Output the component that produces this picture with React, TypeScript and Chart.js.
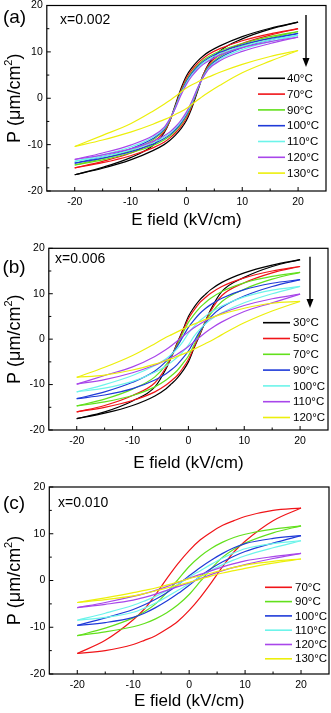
import React, { useEffect, useRef } from 'react';
import { Chart, registerables } from 'chart.js';

Chart.register(...registerables);

const FONT = '"Liberation Sans", Arial, Helvetica, sans-serif';

// ---------- axes ----------
const X_TICKS = [-20, -10, 0, 10, 20];
const X_MINOR = [-15, -5, 5, 15];
const Y_TICKS = [-20, -10, 0, 10, 20];
const Y_MINOR = [-15, -5, 5, 15];

// ---------- E field grids (kV/cm) ----------
const E_AB = [-20, -15, -10, -6, -4, -3, -2, -1, 0, 1, 2, 3, 4, 6, 10, 15, 20];
const E_C = [-20, -15, -10, -8, -6, -4, -2, 0, 2, 4, 6, 8, 10, 15, 20];

// ---------- panel (a) x=0.002 ----------
const TEMPS_A = ['40°C', '70°C', '90°C', '100°C', '110°C', '120°C', '130°C'];
const UPPER_A = [
  [-16.5, -14.9, -12.8, -10.2, -7.5, -5.0, -1.5, 2.0, 4.8, 6.6, 8.0, 9.1, 10.0, 11.3, 13.3, 15.1, 16.4],
  [-15.0, -13.6, -11.8, -9.5, -7.2, -5.0, -1.8, 1.6, 4.3, 6.1, 7.5, 8.6, 9.5, 10.7, 12.4, 13.9, 15.0],
  [-14.4, -13.0, -11.3, -9.0, -6.9, -4.8, -1.9, 1.3, 3.9, 5.7, 7.1, 8.2, 9.0, 10.2, 11.8, 13.3, 14.4],
  [-14.0, -12.6, -10.9, -8.7, -6.7, -4.7, -2.0, 1.1, 3.6, 5.4, 6.8, 7.9, 8.7, 9.9, 11.5, 12.9, 14.0],
  [-13.6, -12.2, -10.5, -8.4, -6.5, -4.6, -2.1, 0.9, 3.3, 5.1, 6.5, 7.6, 8.4, 9.6, 11.2, 12.6, 13.6],
  [-13.2, -11.8, -10.1, -8.1, -6.3, -4.5, -2.2, 0.6, 3.0, 4.8, 6.2, 7.3, 8.1, 9.3, 10.9, 12.2, 13.2],
  [-10.4, -8.0, -5.5, -2.8, -1.3, -0.5, 0.4, 1.3, 2.2, 2.9, 3.5, 4.1, 4.6, 5.6, 7.3, 9.0, 10.3],
];
const LOWER_A = [
  [-16.5, -15.1, -13.3, -11.3, -10.0, -9.1, -8.0, -6.6, -4.8, -2.0, 1.5, 5.0, 7.5, 10.2, 12.8, 14.9, 16.4],
  [-15.0, -13.9, -12.4, -10.7, -9.5, -8.6, -7.5, -6.1, -4.3, -1.6, 1.8, 5.0, 7.2, 9.5, 11.8, 13.6, 15.0],
  [-14.4, -13.3, -11.8, -10.2, -9.0, -8.2, -7.1, -5.7, -3.9, -1.3, 1.9, 4.8, 6.9, 9.0, 11.3, 13.0, 14.4],
  [-14.0, -12.9, -11.5, -9.9, -8.7, -7.9, -6.8, -5.4, -3.6, -1.1, 2.0, 4.7, 6.7, 8.7, 10.9, 12.6, 14.0],
  [-13.6, -12.6, -11.2, -9.6, -8.4, -7.6, -6.5, -5.1, -3.3, -0.9, 2.1, 4.6, 6.5, 8.4, 10.5, 12.2, 13.6],
  [-13.2, -12.2, -10.9, -9.3, -8.1, -7.3, -6.2, -4.8, -3.0, -0.6, 2.2, 4.5, 6.3, 8.1, 10.1, 11.8, 13.2],
  [-10.4, -9.0, -7.3, -5.6, -4.6, -4.1, -3.5, -2.9, -2.2, -1.3, -0.4, 0.5, 1.3, 2.8, 5.5, 8.0, 10.3],
];

// ---------- panel (b) x=0.006 ----------
const TEMPS_B = ['30°C', '50°C', '70°C', '90°C', '100°C', '110°C', '120°C'];
const UPPER_B = [
  [-17.5, -16.0, -13.6, -10.5, -6.5, -3.8, -0.8, 2.0, 5.0, 7.0, 8.6, 9.8, 10.9, 12.5, 14.6, 16.3, 17.5],
  [-16.0, -14.6, -12.4, -9.6, -6.2, -3.8, -1.0, 1.8, 4.5, 6.4, 8.0, 9.1, 10.1, 11.6, 13.5, 15.0, 16.0],
  [-14.7, -13.2, -11.0, -8.3, -5.6, -3.6, -1.3, 1.3, 3.7, 5.4, 6.9, 8.0, 9.0, 10.5, 12.4, 13.8, 14.7],
  [-13.1, -11.6, -9.5, -7.0, -4.9, -3.4, -1.6, 0.5, 2.6, 4.2, 5.6, 6.7, 7.6, 9.0, 10.9, 12.3, 13.1],
  [-11.6, -10.0, -8.0, -5.8, -4.3, -3.3, -2.1, -0.6, 1.3, 2.8, 4.0, 5.0, 5.9, 7.3, 9.3, 10.8, 11.6],
  [-9.9, -8.0, -6.1, -3.8, -2.3, -1.4, -0.4, 0.6, 1.6, 2.5, 3.3, 4.0, 4.6, 5.7, 7.4, 8.9, 9.9],
  [-8.4, -6.2, -3.6, -1.0, 0.4, 1.0, 1.6, 2.2, 2.8, 3.3, 3.8, 4.3, 4.7, 5.5, 6.8, 7.9, 8.3],
];
const LOWER_B = [
  [-17.5, -16.3, -14.6, -12.5, -10.9, -9.8, -8.6, -7.0, -5.0, -2.0, 0.8, 3.8, 6.5, 10.5, 13.6, 16.0, 17.5],
  [-16.0, -15.0, -13.5, -11.6, -10.1, -9.1, -8.0, -6.4, -4.5, -1.8, 1.0, 3.8, 6.2, 9.6, 12.4, 14.6, 16.0],
  [-14.7, -13.8, -12.4, -10.5, -9.0, -8.0, -6.9, -5.4, -3.7, -1.3, 1.3, 3.6, 5.6, 8.3, 11.0, 13.2, 14.7],
  [-13.1, -12.3, -10.9, -9.0, -7.6, -6.7, -5.6, -4.2, -2.6, -0.5, 1.6, 3.4, 4.9, 7.0, 9.5, 11.6, 13.1],
  [-11.6, -10.8, -9.3, -7.3, -5.9, -5.0, -4.0, -2.8, -1.3, 0.6, 2.1, 3.3, 4.3, 5.8, 8.0, 10.0, 11.6],
  [-9.9, -8.9, -7.4, -5.7, -4.6, -4.0, -3.3, -2.5, -1.6, -0.6, 0.4, 1.4, 2.3, 3.8, 6.1, 8.0, 9.9],
  [-8.4, -7.9, -6.8, -5.5, -4.7, -4.3, -3.8, -3.3, -2.8, -2.2, -1.6, -1.0, -0.4, 1.0, 3.6, 6.2, 8.3],
];

// ---------- panel (c) x=0.010 ----------
const TEMPS_C = ['70°C', '90°C', '100°C', '110°C', '120°C', '130°C'];
const UPPER_C = [
  [-15.6, -12.8, -8.4, -6.1, -3.0, 0.4, 3.6, 6.4, 8.7, 10.4, 11.8, 12.8, 13.7, 15.0, 15.5],
  [-11.8, -10.2, -8.0, -6.7, -5.0, -2.6, 0.2, 3.0, 5.2, 6.9, 8.2, 9.2, 9.9, 11.0, 11.7],
  [-9.6, -8.0, -6.2, -5.2, -4.0, -2.6, -0.9, 1.0, 2.8, 4.4, 5.8, 7.0, 7.9, 9.0, 9.6],
  [-8.5, -7.0, -5.3, -4.4, -3.4, -2.2, -0.8, 0.7, 2.1, 3.5, 4.8, 5.9, 6.8, 7.9, 8.5],
  [-5.8, -4.7, -3.4, -2.8, -2.1, -1.3, -0.4, 0.5, 1.3, 2.1, 2.9, 3.6, 4.2, 5.1, 5.8],
  [-4.7, -3.7, -2.6, -2.1, -1.6, -1.0, -0.3, 0.4, 1.0, 1.6, 2.2, 2.8, 3.3, 4.1, 4.6],
];
const LOWER_C = [
  [-15.6, -15.0, -13.7, -12.8, -11.8, -10.4, -8.7, -6.4, -3.6, -0.4, 3.0, 6.1, 8.4, 12.8, 15.5],
  [-11.8, -11.0, -9.9, -9.2, -8.2, -6.9, -5.2, -3.0, -0.2, 2.6, 5.0, 6.7, 8.0, 10.2, 11.7],
  [-9.6, -9.0, -7.9, -7.0, -5.8, -4.4, -2.8, -1.0, 0.9, 2.6, 4.0, 5.2, 6.2, 8.0, 9.6],
  [-8.5, -7.9, -6.8, -5.9, -4.8, -3.5, -2.1, -0.7, 0.8, 2.2, 3.4, 4.4, 5.3, 7.0, 8.5],
  [-5.8, -5.1, -4.2, -3.6, -2.9, -2.1, -1.3, -0.5, 0.4, 1.3, 2.1, 2.8, 3.4, 4.7, 5.8],
  [-4.7, -4.1, -3.3, -2.8, -2.2, -1.6, -1.0, -0.4, 0.3, 1.0, 1.6, 2.1, 2.6, 3.7, 4.6],
];

// ---------- colours ----------
const BLACK = '#000000';
const RED = '#f01418';
const GREEN = '#62e01c';
const BLUE = '#1f3ad8';
const CYAN = '#6cf4ea';
const PURPLE = '#a846ea';
const YELLOW = '#ecef0c';
const COLORS_AB = [BLACK, RED, GREEN, BLUE, CYAN, PURPLE, YELLOW];
const COLORS_C = [RED, GREEN, BLUE, CYAN, PURPLE, YELLOW];

const PANELS = [
  {
    letter: '(a)', comp: 'x=0.002', e: E_AB, temps: TEMPS_A, up: UPPER_A, low: LOWER_A, colors: COLORS_AB,
    top: 0, h: 237, area: { left: 46.8, right: 326, top: 5.5, bottom: 191 },
    letterPos: [14.5, 18], compPos: [60, 20], xTitleY: 220.5, yTitleX: 13,
    legend: { l1: 258, l2: 285, tx: 287, y0: 78.3, dy: 15.8 }, arrow: { x: 306, y1: 15, y2: 67 },
  },
  {
    letter: '(b)', comp: 'x=0.006', e: E_AB, temps: TEMPS_B, up: UPPER_B, low: LOWER_B, colors: COLORS_AB,
    top: 237, h: 238, area: { left: 48.8, right: 328, top: 11.3, bottom: 193 },
    letterPos: [14, 30.5], compPos: [55, 22], xTitleY: 226.3, yTitleX: 13,
    legend: { l1: 263, l2: 290, tx: 293, y0: 85.7, dy: 15.8 }, arrow: { x: 310, y1: 19.7, y2: 71 },
  },
  {
    letter: '(c)', comp: 'x=0.010', e: E_C, temps: TEMPS_C, up: UPPER_C, low: LOWER_C, colors: COLORS_C,
    top: 475, h: 238, area: { left: 49.3, right: 329, top: 12, bottom: 199 },
    letterPos: [14, 29], compPos: [58, 28], xTitleY: 226.7, yTitleX: 13,
    legend: { l1: 265, l2: 292, tx: 295, y0: 112.3, dy: 14.3 }, arrow: null,
  },
];

const W = 331;

function makeDecor(cfg: any) {
  return {
    id: 'decor',
    afterDraw(chart: any) {
      const ctx = chart.ctx;
      const ca = chart.chartArea;
      const xs = chart.scales.x;
      const ys = chart.scales.y;
      ctx.save();
      ctx.strokeStyle = '#000';
      ctx.fillStyle = '#000';
      ctx.lineWidth = 1.2;
      ctx.strokeRect(ca.left, ca.top, ca.right - ca.left, ca.bottom - ca.top);
      const line = (x1: number, y1: number, x2: number, y2: number) => {
        ctx.beginPath();
        ctx.moveTo(x1, y1);
        ctx.lineTo(x2, y2);
        ctx.stroke();
      };
      ctx.lineWidth = 1;
      X_TICKS.forEach((v) => { const p = xs.getPixelForValue(v); line(p, ca.bottom, p, ca.bottom - 4); });
      X_MINOR.forEach((v) => { const p = xs.getPixelForValue(v); line(p, ca.bottom, p, ca.bottom - 2.5); });
      Y_TICKS.forEach((v) => { const p = ys.getPixelForValue(v); line(ca.left, p, ca.left + 4, p); });
      Y_MINOR.forEach((v) => { const p = ys.getPixelForValue(v); line(ca.left, p, ca.left + 2.5, p); });

      // x title
      ctx.font = `17px ${FONT}`;
      ctx.textAlign = 'center';
      ctx.textBaseline = 'middle';
      ctx.fillText('E field (kV/cm)', (ca.left + ca.right) / 2, cfg.xTitleY);

      // y title with superscript
      ctx.save();
      ctx.translate(cfg.yTitleX, (ca.top + ca.bottom) / 2);
      ctx.rotate(-Math.PI / 2);
      ctx.textAlign = 'left';
      ctx.textBaseline = 'alphabetic';
      ctx.font = `18px ${FONT}`;
      const t1 = 'P (μm/cm';
      const w1 = ctx.measureText(t1).width;
      const w3 = ctx.measureText(')').width;
      ctx.font = `11px ${FONT}`;
      const w2 = ctx.measureText('2').width;
      const total = w1 + w2 + w3;
      let x0 = -total / 2;
      ctx.font = `18px ${FONT}`;
      ctx.fillText(t1, x0, 6.5);
      x0 += w1;
      ctx.font = `11px ${FONT}`;
      ctx.fillText('2', x0, -1.5);
      x0 += w2;
      ctx.font = `18px ${FONT}`;
      ctx.fillText(')', x0, 6.5);
      ctx.restore();

      // panel letter
      ctx.font = `19px ${FONT}`;
      ctx.textAlign = 'center';
      ctx.textBaseline = 'middle';
      ctx.fillText(cfg.letter, cfg.letterPos[0], cfg.letterPos[1]);

      // composition
      ctx.font = `14px ${FONT}`;
      ctx.textAlign = 'left';
      ctx.fillText(cfg.comp, cfg.compPos[0], cfg.compPos[1]);

      // legend
      const lg = cfg.legend;
      ctx.font = `11.5px ${FONT}`;
      cfg.temps.forEach((t: string, i: number) => {
        const y = lg.y0 + i * lg.dy;
        ctx.strokeStyle = cfg.colors[i];
        ctx.lineWidth = 1.6;
        line(lg.l1, y, lg.l2, y);
        ctx.fillStyle = '#000';
        ctx.fillText(t, lg.tx, y + 0.5);
      });

      // arrow
      if (cfg.arrow) {
        const a = cfg.arrow;
        ctx.strokeStyle = '#000';
        ctx.fillStyle = '#000';
        ctx.lineWidth = 1.4;
        line(a.x, a.y1, a.x, a.y2 - 8);
        ctx.beginPath();
        ctx.moveTo(a.x - 3.5, a.y2 - 9);
        ctx.lineTo(a.x + 3.5, a.y2 - 9);
        ctx.lineTo(a.x, a.y2);
        ctx.closePath();
        ctx.fill();
      }
      ctx.restore();
    },
  };
}

function Panel({ cfg }: { cfg: any }) {
  const ref = useRef<HTMLCanvasElement>(null);
  useEffect(() => {
    const datasets: any[] = [];
    const n = cfg.temps.length;
    cfg.temps.forEach((t: string, i: number) => {
      [cfg.up[i], cfg.low[i]].forEach((vals: number[]) => {
        datasets.push({
          label: t,
          data: cfg.e.map((x: number, j: number) => ({ x, y: vals[j] })),
          showLine: true,
          pointRadius: 0,
          borderColor: cfg.colors[i],
          backgroundColor: cfg.colors[i],
          borderWidth: 1.2,
          cubicInterpolationMode: 'monotone',
          fill: false,
          order: n - i,
        });
      });
    });
    const tickFont = { family: FONT, size: 10.5 };
    const chart = new Chart(ref.current as HTMLCanvasElement, {
      type: 'scatter',
      data: { datasets },
      options: {
        responsive: false,
        animation: false,
        events: [],
        layout: { padding: { top: cfg.area.top, right: W - cfg.area.right, left: 0, bottom: 0 } },
        plugins: { legend: { display: false }, tooltip: { enabled: false } },
        scales: {
          x: {
            type: 'linear', min: -25, max: 25,
            grid: { display: false, drawTicks: false }, border: { display: false },
            afterBuildTicks: (s: any) => { s.ticks = X_TICKS.map((v) => ({ value: v })); },
            afterFit: (s: any) => { s.height = cfg.h - cfg.area.bottom; s.paddingLeft = 0; s.paddingRight = 0; },
            ticks: { padding: 5, color: '#000', font: tickFont, maxRotation: 0, autoSkip: false },
          },
          y: {
            type: 'linear', min: -20, max: 20,
            grid: { display: false, drawTicks: false }, border: { display: false },
            afterBuildTicks: (s: any) => { s.ticks = Y_TICKS.map((v) => ({ value: v })); },
            afterFit: (s: any) => { s.width = cfg.area.left; s.paddingTop = 0; s.paddingBottom = 0; },
            ticks: { padding: 4, color: '#000', font: tickFont, autoSkip: false },
          },
        },
      } as any,
      plugins: [makeDecor(cfg)],
    });
    return () => chart.destroy();
  }, []);
  return (
    <canvas
      ref={ref}
      width={W}
      height={cfg.h}
      style={{ position: 'absolute', left: 0, top: cfg.top, width: W, height: cfg.h, display: 'block' }}
    />
  );
}

export default function App() {
  return (
    <div style={{ position: 'absolute', left: 0, top: 0, width: W, height: 713, background: '#fff' }}>
      {PANELS.map((p) => (
        <Panel key={p.letter} cfg={p} />
      ))}
    </div>
  );
}
